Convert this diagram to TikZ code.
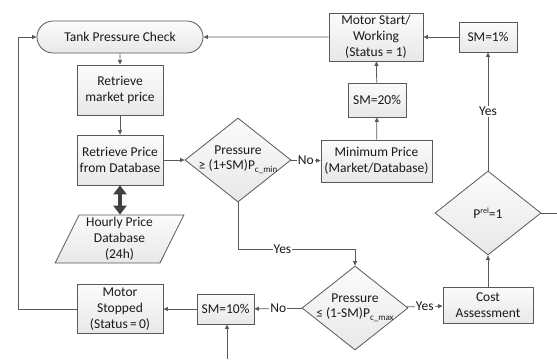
\documentclass[tikz,border=0pt]{standalone}
\usepackage{fontspec}
\setmainfont{Carlito}
\usetikzlibrary{shapes.geometric,shapes.misc,arrows.meta,calc}

\begin{document}
\begin{tikzpicture}[x=1pt,y=-1pt,
  font=\fontsize{13.5}{16}\selectfont,
  box/.style={draw=black!65, line width=0.8pt, top color=gray!3, bottom color=gray!18,
              align=center, inner sep=1pt, text=black!90},
  decision/.style={diamond, draw=black!65, line width=0.8pt, top color=gray!3, bottom color=gray!18,
              inner sep=0pt, minimum width=106pt, minimum height=84pt},
  dtext/.style={align=center, inner sep=0pt, text=black!90},
  conn/.style={draw=black!65, line width=0.8pt, -{Triangle[length=4.5pt,width=4pt]}},
  plain/.style={draw=black!65, line width=0.8pt},
  lab/.style={fill=white, inner sep=1pt, text=black!90},
  dbl/.style={draw=black!75, line width=4pt,
              {Triangle[length=9pt,width=13pt]}-{Triangle[length=9pt,width=13pt]}}
]
\useasboundingbox (0,0) rectangle (557,359);

% process column on the left
\node[box, rounded rectangle, minimum width=168pt, minimum height=32pt] (tank) at (120,37) {Tank Pressure Check};
\node[box, minimum width=86pt, minimum height=50pt] (market) at (120,90) {Retrieve\\market price};
\node[box, minimum width=86pt, minimum height=50pt] (dbprice) at (120,160) {Retrieve Price\\from Database};
\node[box, trapezium, trapezium left angle=65.4, trapezium right angle=114.6, trapezium stretches=true,
      minimum width=129pt, minimum height=48pt, inner sep=0pt] (hourly) at (119.5,239) {Hourly Price\\Database\\(24h)};
\node[box, minimum width=86pt, minimum height=49pt] (stopped) at (120,309) {Motor\\Stopped\\(Status\,=\,0)};

% decisions
\node[decision] (d1) at (238,160) {};
\node[dtext] (d1t) at (d1.center) {Pressure\\[-1pt]≥ (1+SM)P\raisebox{-2.5pt}{\fontsize{9}{9}\selectfont c\_min}};
\node[decision] (d2) at (355,308) {};
\node[dtext] (d2t) at (d2.center) {Pressure\\[-1pt]≤ (1-SM)P\raisebox{-2.5pt}{\fontsize{9}{9}\selectfont c\_max}};
\node[decision] (prel) at (488,213) {};
\node[dtext] (prelt) at (prel.center) {P\raisebox{5pt}{\fontsize{8}{8}\selectfont rel}=1};

% boxes on the right
\node[box, minimum width=111pt, minimum height=42pt] (minprice) at (376.5,161) {Minimum Price\\(Market/Database)};
\node[box, minimum width=58pt, minimum height=34pt] (sm20) at (377,100) {SM=20\%};
\node[box, minimum width=94pt, minimum height=48pt] (motor) at (376,37) {Motor Start/\\Working\\(Status = 1)};
\node[box, minimum width=58pt, minimum height=30pt] (sm1) at (488,37) {SM=1\%};
\node[box, minimum width=90pt, minimum height=36pt] (cost) at (488,305) {Cost\\Assessment};
\node[box, minimum width=57pt, minimum height=30pt] (sm10) at (225.5,309) {SM=10\%};

% free ends of lines leaving the drawing
\coordinate (loopx) at (18,0);
\coordinate (yesy) at (0,249);
\coordinate (rightend) at (557,213);
\coordinate (bottomend) at (227,359);

% connectors
\draw[conn] (tank) -- (market);
\draw[conn] (market) -- (dbprice);
\draw[conn] (dbprice) -- (d1);
\draw[dbl] (dbprice.south) -- (dbprice.south |- hourly.north);
\draw[conn] (d1) -- node[lab] {No} (minprice);
\draw[conn] (minprice) -- (sm20);
\draw[conn] (sm20) -- (motor);
\draw[conn] (sm1) -- (motor);
\draw[conn] (motor) -- (tank);
\draw[conn] (d1.south) -- (d1.south |- yesy) -- node[lab, pos=0.38] {Yes} (d2.north |- yesy) -- (d2.north);
\draw[conn] (d2) -- node[lab] {Yes} (cost);
\draw[conn] (d2) -- node[lab] {No} (sm10);
\draw[conn] (sm10) -- (stopped);
\draw[conn] (stopped.west) -- (stopped.west -| loopx) -- (tank.west -| loopx) -- (tank.west);
\draw[conn] (cost) -- (prel);
\draw[conn] (prel.north) -- node[lab] {Yes} (sm1.south);
\draw[plain] (prel.east) -- (rightend);
\draw[conn] (bottomend) -- (bottomend |- sm10.south);
\end{tikzpicture}
\end{document}
